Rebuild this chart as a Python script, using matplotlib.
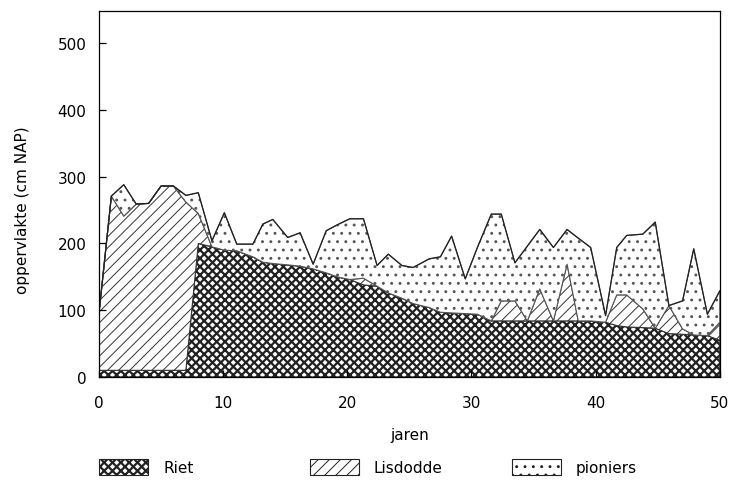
import numpy as np
import matplotlib
matplotlib.use('Agg')
import matplotlib.pyplot as plt
from matplotlib.patches import Patch

plt.rcParams['font.family'] = ['DejaVu Sans']

jaren = [0, 1, 2, 3, 4, 5, 6, 7, 8, 9.1, 10.1, 11.1, 12.4, 13.2, 14.0, 15.2, 16.2,
         17.25, 18.3, 19.2, 20.2, 21.3, 22.4, 23.3, 24.4, 25.3, 26.6, 27.5, 28.4,
         29.5, 30.5, 31.6, 32.4, 33.5, 34.5, 35.5, 36.6, 37.7, 38.6, 39.6, 40.8,
         41.7, 42.5, 43.8, 44.8, 45.9, 47.0, 47.9, 49.0, 50.0]

# bovenkant totaal
totaal = [95, 271, 288, 259, 260, 286, 286, 272, 276, 204, 246, 199, 199, 229, 236, 209, 216,
          169, 219, 228, 237, 237, 167, 184, 167, 164, 177, 180, 211,
          147, 195, 244, 244, 171, 196, 221, 194, 221, 208, 194, 92,
          194, 212, 214, 232, 107, 114, 192, 94, 129]

riet = [10, 10, 10, 10, 10, 10, 10, 10, 200, 195, 190, 189, 180, 172, 170, 168, 166,
        162, 156, 150, 146, 138, 136, 126, 118, 110, 104, 97, 96,
        95, 94, 84, 84, 84, 84, 84, 84, 84, 84, 84, 82,
        77, 75, 74, 73, 65, 64, 63, 62, 55]

lisdodde = [85, 261, 231, 249, 250, 276, 276, 252, 45, 0, 0, 0, 0, 0, 0, 0, 0,
            0, 0, 0, 0, 10, 0, 0, 0, 0, 0, 0, 0,
            0, 0, 0, 30, 30, 0, 48, 0, 85, 0, 0, 0,
            46, 48, 28, 0, 42, 8, 0, 0, 27]

x = np.array(jaren)
r = np.array(riet)
l = np.array(lisdodde)
p = np.array(totaal) - r - l

arc_riet, arc_lis, arc_pio = 'xxxx', '///', '..'
lw_arc = {arc_riet: 1.6, arc_lis: 0.7, arc_pio: 0.9}

fig = plt.figure(figsize=(7.33, 4.85), dpi=100)
ax = fig.add_axes([0.135, 0.2206, 0.847, 0.7544])

with plt.rc_context({'hatch.linewidth': lw_arc[arc_riet]}):
    ax.fill_between(x, 0, r, facecolor='white', edgecolor='#222222',
                    hatch=arc_riet, linewidth=0.8)
with plt.rc_context({'hatch.linewidth': lw_arc[arc_lis]}):
    ax.fill_between(x, r, r + l, facecolor='white', edgecolor='#333333',
                    hatch=arc_lis, linewidth=0.8)
with plt.rc_context({'hatch.linewidth': lw_arc[arc_pio]}):
    ax.fill_between(x, r + l, r + l + p, facecolor='white', edgecolor='#555555',
                    hatch=arc_pio, linewidth=0.8)
ax.plot(x, r + l + p, color='#222222', lw=0.9)

ax.set_xlim(0, 50)
ax.set_ylim(0, 548)
ax.set_xticks([0, 10, 20, 30, 40, 50])
ax.set_yticks([0, 100, 200, 300, 400, 500])
ax.tick_params(direction='in', length=5, labelsize=11, width=0.9)
ax.tick_params(axis='x', pad=13)
ax.tick_params(axis='y', pad=9)
for s in ax.spines.values():
    s.set_linewidth(0.9)

ax.set_xlabel('jaren', fontsize=11, labelpad=12)
ax.set_ylabel('oppervlakte (cm NAP)', fontsize=11)
ax.yaxis.set_label_coords(-0.111, 0.46)

namen = ['Riet', 'Lisdodde', 'pioniers']
arceringen = [arc_riet, arc_lis, arc_pio]
posities = [0.125, 0.412, 0.688]
for naam, arc, px in zip(namen, arceringen, posities):
    with plt.rc_context({'hatch.linewidth': lw_arc[arc]}):
        h = Patch(facecolor='white', edgecolor='#222222', hatch=arc, linewidth=0.8)
        fig.legend(handles=[h], labels=[naam], loc='center left',
                   bbox_to_anchor=(px, 0.035), frameon=False, borderpad=0,
                   handlelength=3.2, handleheight=1.3, handletextpad=1.0,
                   fontsize=11)

fig.savefig('out.png', dpi=100)
